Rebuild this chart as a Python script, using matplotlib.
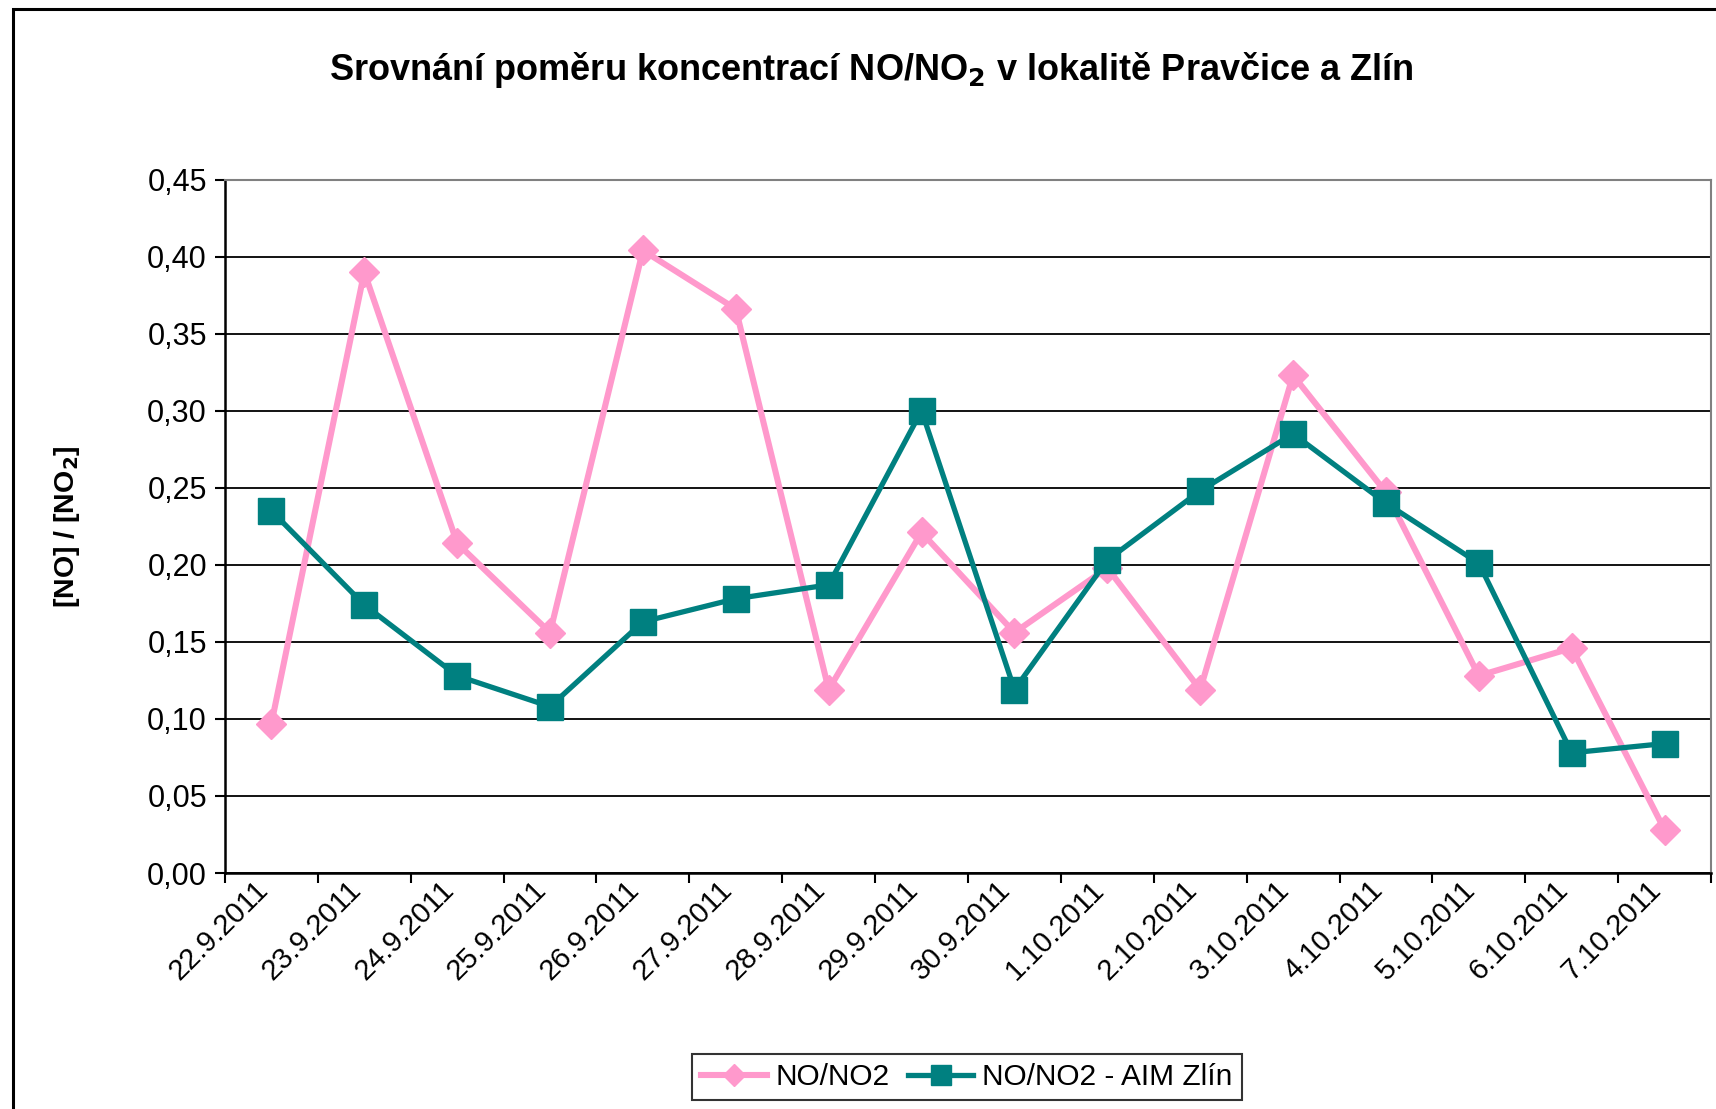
"""
Srovnání poměru koncentrací NO/NO2 – Pravčice vs. AIM Zlín.
Jeden graf, styl podobný Excelu (kategorie, mřížka, rámeček kolem obrázku).
"""
import matplotlib
matplotlib.use('Agg')
import matplotlib.pyplot as plt
from matplotlib.patches import Rectangle
from matplotlib.transforms import ScaledTranslation

# ─── Data ────────────────────────────────────────────────────────────────────

dates = ['22.9.2011', '23.9.2011', '24.9.2011', '25.9.2011', '26.9.2011',
         '27.9.2011', '28.9.2011', '29.9.2011', '30.9.2011', '1.10.2011',
         '2.10.2011', '3.10.2011', '4.10.2011', '5.10.2011', '6.10.2011',
         '7.10.2011']

ratio_pravcice = [0.097, 0.390, 0.214, 0.156, 0.404, 0.366, 0.119, 0.221,
                  0.156, 0.198, 0.119, 0.323, 0.247, 0.128, 0.146, 0.028]

ratio_zlin = [0.235, 0.174, 0.128, 0.108, 0.163, 0.178, 0.187, 0.300,
              0.119, 0.203, 0.248, 0.285, 0.240, 0.201, 0.078, 0.084]

y_ticks = [0.00, 0.05, 0.10, 0.15, 0.20, 0.25, 0.30, 0.35, 0.40, 0.45]

PINK = '#FF99CC'
TEAL = '#008080'

plt.rcParams['font.family'] = ['Liberation Sans', 'DejaVu Sans']

fig = plt.figure(figsize=(17.16, 11.09), dpi=100)
ax = fig.add_axes([0.1311, 0.2128, 0.8660, 0.6253])

x = list(range(len(dates)))

ax.plot(x, ratio_pravcice, color=PINK, lw=4.4, marker='D', ms=15,
        mec=PINK, mfc=PINK, label='NO/NO2', zorder=3)
ax.plot(x, ratio_zlin, color=TEAL, lw=3.8, marker='s', ms=19,
        mec=TEAL, mfc=TEAL, label='NO/NO2 - AIM Zlín', zorder=4)

# Osy: kategorie mezi tickami, popisky uprostřed
ax.set_xlim(-0.5, len(dates) - 0.5)
ax.set_ylim(0, 0.45)
ax.set_xticks([i - 0.5 for i in range(len(dates) + 1)])
ax.set_xticklabels([])
ax.set_xticks(x, minor=True)
ax.set_xticklabels(dates, minor=True, rotation=45, ha='right', va='center',
                   rotation_mode='anchor', fontsize=21)
ax.tick_params(axis='x', which='major', direction='out', length=7, width=1.5)
ax.tick_params(axis='x', which='minor', length=0, pad=9)
# Excel posouvá popisky kousek doleva od středu kategorie
shift = ScaledTranslation(-8 / 100, 0, fig.dpi_scale_trans)
for lab in ax.get_xticklabels(minor=True):
    lab.set_transform(lab.get_transform() + shift)

ax.set_yticks(y_ticks)
ax.set_yticklabels([f'{v:.2f}'.replace('.', ',') for v in y_ticks], fontsize=22)
ax.tick_params(axis='y', direction='out', length=7, width=1.5, pad=6)

ax.yaxis.grid(True, color='black', lw=1.3)
ax.set_axisbelow(True)
for line in ax.get_ygridlines()[-1:]:
    line.set_visible(False)

ax.spines['left'].set_linewidth(1.8)
ax.spines['bottom'].set_linewidth(1.8)
ax.spines['top'].set_color('#808080')
ax.spines['right'].set_color('#808080')
ax.spines['top'].set_linewidth(1.5)
ax.spines['right'].set_linewidth(1.5)

ax.set_ylabel('[NO] / [NO$_\\mathbf{2}$]', fontsize=20.5, fontweight='bold')
ax.yaxis.set_label_coords(-0.0965, 0.5)

fig.suptitle('Srovnání poměru koncentrací NO/NO$_\\mathbf{2}$ v lokalitě Pravčice a Zlín',
             x=0.508, y=0.937, va='center', fontsize=26, fontweight='bold')

leg = fig.legend(loc='center', bbox_to_anchor=(0.5635, 0.0286), ncol=2,
                 fontsize=21.5, frameon=True, fancybox=False, edgecolor='black',
                 handlelength=2.2, handletextpad=0.3, columnspacing=0.6,
                 borderpad=0.3, markerscale=0.75)
leg.get_frame().set_linewidth(1.5)

# Rámeček kolem celého grafu (pravá a spodní strana jsou mimo obrázek)
fig.add_artist(Rectangle((13 / 1716, -0.1), 1.2, 1.1 - 9 / 1109,
                         transform=fig.transFigure, fill=False,
                         edgecolor='black', lw=2.2))

fig.savefig('out.png', dpi=100)
